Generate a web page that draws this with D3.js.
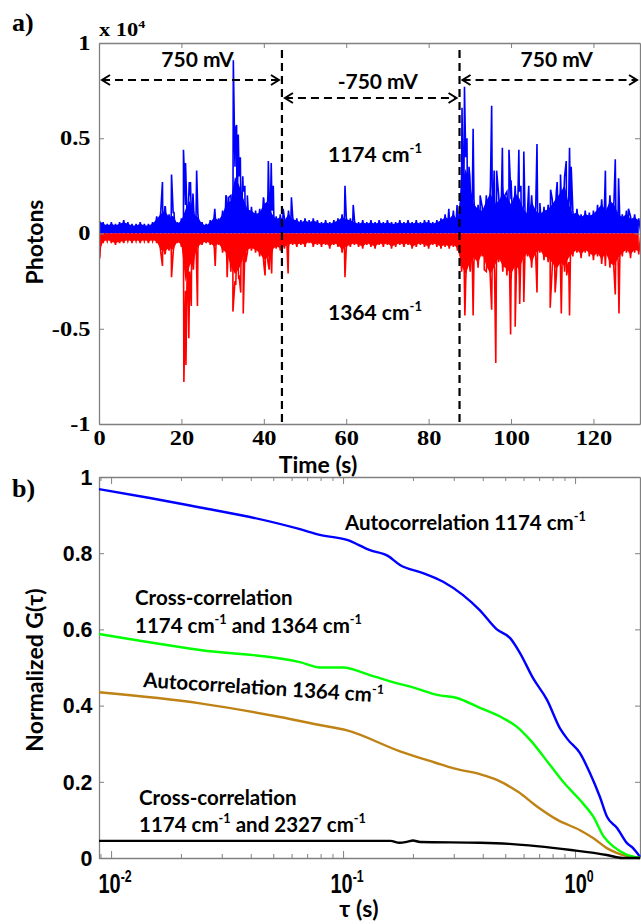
<!DOCTYPE html>
<html>
<head>
<meta charset="utf-8">
<script src="https://cdn.jsdelivr.net/npm/d3@7"></script>
<style>
body { margin: 0; background: #fff; }
svg { display: block; }
.lbl { font-family: Lato, "Open Sans", sans-serif; font-weight: bold; fill: #000; }
.serif { font-family: "Liberation Serif", "Times New Roman", serif; font-weight: bold; fill: #000; }
</style>
</head>
<body>
<svg id="viz" width="641" height="924"></svg>
<script>
// ---- panel a data: photon counts (x 10^4) over time (s) ----
var timeTicks = [0, 20, 40, 60, 80, 100, 120];
var photonTicks = [-1, -0.5, 0, 0.5, 1];

// band top per second (1174 cm-1, blue)
var blueNoise = [
  .08, .06, .05, .06, .05, .06, .07, .06, .05, .05, .06, .05, .05, .06, .09, .12, .14, .10, .11, .06,
  .08, .15, .20, .12, .10, .06, .05, .07, .10, .08, .12, .19, .20, .35, .30, .22, .15, .14, .12, .13,
  .18, .20, .12, .09, .10, .08, .12, .09, .08, .07, .08, .07, .08, .07, .06, .07, .06, .07, .08, .10,
  .09, .08, .07, .06, .07, .06, .07, .06, .07, .06, .07, .06, .06, .07, .06, .07, .06, .07, .06, .07,
  .07, .06, .07, .08, .10, .09, .12, .08, .30, .40, .30, .18, .15, .14, .20, .25, .18, .20, .25, .22,
  .18, .25, .22, .15, .12, .20, .14, .12, .14, .15, .18, .22, .25, .30, .18, .12, .13, .10, .12, .11,
  .12, .15, .18, .14, .20, .18, .12, .10, .12, .09, .10, .08
];
// band bottom per second (1364 cm-1, red, plotted negative)
var redNoise = [
  -.12, -.05, -.04, -.05, -.06, -.05, -.05, -.04, -.05, -.04, -.05, -.04, -.05, -.04, -.05, -.10, -.11, -.09, -.10, -.05,
  -.07, -.30, -.20, -.15, -.08, -.06, -.05, -.06, -.08, -.06, -.10, -.12, -.20, -.25, -.22, -.15, -.10, -.09, -.10, -.12,
  -.16, -.15, -.10, -.08, -.09, -.08, -.07, -.06, -.07, -.06, -.07, -.05, -.07, -.06, -.07, -.06, -.08, -.06, -.07, -.10,
  -.08, -.07, -.06, -.07, -.08, -.06, -.07, -.08, -.06, -.07, -.06, -.08, -.07, -.06, -.07, -.06, -.08, -.07, -.06, -.07,
  -.08, -.06, -.07, -.08, -.07, -.08, -.07, -.09, -.20, -.25, -.18, -.15, -.18, -.12, -.20, -.25, -.20, -.15, -.20, -.22,
  -.25, -.20, -.22, -.15, -.12, -.18, -.12, -.10, -.14, -.15, -.18, -.22, -.18, -.20, -.15, -.12, -.10, -.13, -.10, -.12,
  -.14, -.12, -.16, -.12, -.18, -.20, -.15, -.12, -.10, -.13, -.10, -.11
];
// bursts [time, value]
var blueSpikes = [
  [15.4, .27], [16.1, .14], [17.6, .31], [18.2, .11], [20.5, .44], [21.0, .37], [21.9, .27], [22.2, .27],
  [22.8, .21], [23.7, .33], [28.1, .13], [30.8, .20], [31.5, .19], [32.6, .91], [33.1, .55], [33.4, .57],
  [33.8, .52], [34.3, .40], [34.9, .30], [35.4, .25], [36.0, .20], [39.9, .19], [41.1, .38], [41.8, .37],
  [42.3, .25], [44.7, .13], [46.7, .19], [59.7, .25], [61.7, .15], [84.9, .13], [86.9, .15], [88.1, .66],
  [88.7, .77], [89.3, .50], [89.8, .35], [90.8, .55], [92.5, .20], [95.3, .67], [95.9, .33], [96.5, .33],
  [97.9, .45], [98.5, .20], [99.5, .44], [100.0, .28], [101.9, .44], [102.4, .25], [103.1, .43], [104.3, .25],
  [106.3, .47], [107.0, .16], [109.6, .23], [111.2, .27], [112.0, .31], [113.4, .38], [114.2, .45], [114.6, .35],
  [122.9, .33], [125.3, .39], [126.1, .29], [128.5, .13]
];
var redSpikes = [
  [0.2, -.13], [15.4, -.17], [16.1, -.10], [17.6, -.23], [20.6, -.78], [21.1, -.69], [21.8, -.55], [22.4, -.38],
  [22.9, -.19], [23.9, -.38], [28.2, -.17], [31.1, -.23], [32.5, -.41], [33.2, -.27], [33.9, -.24], [34.4, -.31],
  [35.0, -.42], [35.6, -.15], [40.3, -.22], [41.3, -.19], [41.9, -.21], [45.9, -.21], [59.7, -.23], [88.8, -.43],
  [90.1, -.20], [90.8, -.43], [93.5, -.19], [95.3, -.40], [96.3, -.68], [99.9, -.53], [101.0, -.49], [102.1, -.37],
  [103.1, -.36], [106.3, -.31], [109.5, -.39], [110.7, -.31], [112.2, -.42], [113.5, -.22], [114.2, -.43], [122.9, -.17],
  [125.3, -.32], [126.2, -.42]
];
var switchTimes = [44.4, 87.5];
var segStart = [0, 44.4, 87.5];
var segEnd = [44.4, 87.5, 131.3];
var segLabels = ["750 mV", "-750 mV", "750 mV"];

// ---- panel b data: normalized G(tau) [tau (s), G] ----
var gTicks = [0, 0.2, 0.4, 0.6, 0.8, 1];
var tauMajor = [0.01, 0.1, 1];
var tauExp = ["-2", "-1", "0"];
var auto1174 = [[0.00887, .968], [0.0147, .945], [0.0242, .92], [0.0397, .895], [0.0652, .863], [0.0794, .848],
  [0.104, .835], [0.1306, .808], [0.156, .793], [0.176, .769], [0.221, .748], [0.27, .725], [0.329, .69],
  [0.389, .65], [0.46, .60], [0.525, .577], [0.579, .538], [0.659, .472], [0.757, .415], [0.861, .34],
  [0.933, .31], [1.05, .275], [1.159, .223], [1.28, .16], [1.373, .108], [1.517, .079], [1.675, .039],
  [1.778, .026], [1.905, .003]];
var cross1364 = [[0.00887, .588], [0.0242, .546], [0.0652, .514], [0.0794, .50], [0.1, .50], [0.1306, .48],
  [0.17, .459], [0.205, .446], [0.255, .428], [0.31, .42], [0.389, .394], [0.49, .367], [0.57, .341],
  [0.64, .31], [0.789, .24], [0.90, .196], [1.05, .152], [1.2, .108], [1.33, .056], [1.47, .029],
  [1.675, .008], [1.905, 0]];
var auto1364 = [[0.00887, .435], [0.0242, .406], [0.0535, .37], [0.0794, .349], [0.104, .335], [0.176, .28],
  [0.25, .25], [0.30, .235], [0.389, .22], [0.46, .205], [0.57, .173], [0.69, .134], [0.84, .10],
  [1.05, .073], [1.2, .052], [1.37, .026], [1.52, .013], [1.905, 0]];
var cross2327 = [[0.00887, .045], [0.16, .045], [0.175, .040], [0.19, .043], [0.20, .046], [0.215, .042],
  [0.39, .040], [0.52, .037], [0.96, .021], [1.37, .008], [1.6, 0], [1.905, 0]];

var svg = d3.select("#viz");
var axisGray = "#808080";

function richText(g, x, y, parts, size, cls) {
    var t = g.append("text").attr("class", cls).attr("x", x).attr("y", y).attr("font-size", size);
    var up = false;
    parts.forEach(function(p) {
        var s = t.append("tspan").text(p[0]);
        if (p[1]) {
            s.attr("font-size", size * 0.62);
            if (!up) { s.attr("dy", -size * 0.42); up = true; }
        } else if (up) {
            s.attr("dy", size * 0.42); up = false;
        }
    });
    return t;
}

function styleAxis(g) {
    g.select(".domain").attr("stroke", axisGray).attr("stroke-width", 1.3);
    g.selectAll(".tick line").attr("stroke", axisGray).attr("stroke-width", 1);
}

// ================= panel a =================
var xa = d3.scaleLinear().domain([0, 131.3]).range([99, 640]);
var ya = d3.scaleLinear().domain([-1, 1]).range([424, 43]);

svg.append("clipPath").attr("id", "clipA").append("rect")
    .attr("x", 99).attr("y", 43).attr("width", 541).attr("height", 381);

function buildTrace(noise, spikes) {
    var pts = [];
    noise.forEach(function(v, i) { pts.push([i, v]); pts.push([i + 0.5, 0]); });
    spikes.forEach(function(s) { pts.push(s); });
    pts.sort(function(a, b) { return a[0] - b[0]; });
    return pts;
}

var lineA = d3.line().x(function(d) { return xa(d[0]); }).y(function(d) { return ya(d[1]); });
var bandA = d3.area().x(function(d, i) { return xa(i); }).y0(ya(0)).y1(function(d) { return ya(d * 0.85); });
var traces = svg.append("g").attr("clip-path", "url(#clipA)");
[[blueNoise, blueSpikes, "#0000ff"], [redNoise, redSpikes, "#ff0000"]].forEach(function(s) {
    traces.append("path").datum(s[0]).attr("d", bandA).attr("fill", s[2]);
    traces.append("path").datum(buildTrace(s[0], s[1]))
        .attr("d", lineA).attr("fill", "none").attr("stroke", s[2]).attr("stroke-width", 1.6);
});

// axes (box)
var axB = svg.append("g").attr("transform", "translate(0,424)")
    .call(d3.axisBottom(xa).tickValues(timeTicks).tickSize(-5).tickSizeOuter(0).tickPadding(7));
var axT = svg.append("g").attr("transform", "translate(0,43)")
    .call(d3.axisTop(xa).tickValues(timeTicks).tickSize(-5).tickSizeOuter(0).tickFormat(""));
var axL = svg.append("g").attr("transform", "translate(99,0)")
    .call(d3.axisLeft(ya).tickValues(photonTicks).tickSize(-5).tickSizeOuter(0).tickPadding(7)
        .tickFormat(function(d) { return String(d); }));
var axR = svg.append("g").attr("transform", "translate(640,0)")
    .call(d3.axisRight(ya).tickValues(photonTicks).tickSize(-5).tickSizeOuter(0).tickFormat(""));
[axB, axT, axL, axR].forEach(styleAxis);
[axB, axL].forEach(function(g) {
    g.selectAll("text").attr("class", "serif").attr("font-size", 20).attr("fill", "#000")
        .attr("transform", "scale(1.22,1)");
});

// voltage switches
svg.selectAll("line.switch")
    .data(switchTimes)
    .enter()
    .append("line")
    .classed("switch", true)
    .attr("x1", function(d) { return xa(d); })
    .attr("x2", function(d) { return xa(d); })
    .attr("y1", 50).attr("y2", 424)
    .attr("stroke", "#000").attr("stroke-width", 2.2).attr("stroke-dasharray", "8,5");

var defs = svg.append("defs");
defs.append("marker").attr("id", "chev").attr("viewBox", "-10 -6 12 12")
    .attr("refX", 0).attr("refY", 0).attr("markerWidth", 12).attr("markerHeight", 12)
    .attr("markerUnits", "userSpaceOnUse").attr("orient", "auto-start-reverse")
    .append("path").attr("d", "M-8,-5L0,0L-8,5").attr("fill", "none")
    .attr("stroke", "#000").attr("stroke-width", 2);

var arrowY = [80, 98, 80];
var labelY = [67, 89, 67];
segLabels.forEach(function(lab, i) {
    svg.append("line")
        .attr("x1", xa(segStart[i]) + 3).attr("x2", xa(segEnd[i]) - 3)
        .attr("y1", arrowY[i]).attr("y2", arrowY[i])
        .attr("stroke", "#000").attr("stroke-width", 2.2).attr("stroke-dasharray", "8,5")
        .attr("marker-start", "url(#chev)").attr("marker-end", "url(#chev)");
    svg.append("text").attr("class", "lbl").attr("font-size", 21)
        .attr("x", (xa(segStart[i]) + xa(segEnd[i])) / 2 + 7).attr("y", labelY[i])
        .attr("text-anchor", "middle").text(lab);
});

richText(svg, 328, 162, [["1174 cm"], ["-1", 1]], 21, "lbl");
richText(svg, 328, 320, [["1364 cm"], ["-1", 1]], 21, "lbl");

svg.append("text").attr("class", "serif").attr("font-size", 26).attr("x", 12).attr("y", 31).text("a)");
richText(svg, 0, 0, [["x 10"], ["4", 1]], 18, "serif")
    .attr("transform", "translate(99,36) scale(1.25,1)");

svg.append("text").attr("class", "lbl").attr("font-size", 23)
    .attr("transform", "translate(43,242) rotate(-90)").attr("text-anchor", "middle").text("Photons");
svg.append("text").attr("class", "lbl").attr("font-size", 23)
    .attr("x", 318).attr("y", 473).attr("text-anchor", "middle").text("Time (s)");

// ================= panel b =================
var xb = d3.scaleLog().domain([0.00887, 1.905]).range([99, 640]);
var yb = d3.scaleLinear().domain([0, 1]).range([858, 477]);
var allTau = xb.ticks();
function isMajor(d) { return tauMajor.some(function(m) { return Math.abs(m - d) < 1e-9; }); }

var bB = svg.append("g").attr("transform", "translate(0,858)")
    .call(d3.axisBottom(xb).tickValues(allTau).tickSizeOuter(0).tickFormat(""));
bB.selectAll(".tick line").attr("y2", function(d) { return isMajor(d) ? -7 : -4; });
var bT = svg.append("g").attr("transform", "translate(0,477)")
    .call(d3.axisTop(xb).tickValues(allTau).tickSizeOuter(0).tickFormat(""));
bT.selectAll(".tick line").attr("y2", function(d) { return isMajor(d) ? 7 : 4; });
var bL = svg.append("g").attr("transform", "translate(99,0)")
    .call(d3.axisLeft(yb).tickValues(gTicks).tickSize(-5).tickSizeOuter(0).tickPadding(7)
        .tickFormat(function(d) { return String(d); }));
var bR = svg.append("g").attr("transform", "translate(640,0)")
    .call(d3.axisRight(yb).tickValues(gTicks).tickSize(-5).tickSizeOuter(0).tickFormat(""));
[bB, bT, bL, bR].forEach(styleAxis);
bL.selectAll("text").attr("font-family", "'Liberation Sans', Arial, sans-serif").attr("font-weight", "bold")
    .attr("font-size", 23).attr("fill", "#000").attr("transform", "scale(0.93,1)");

tauMajor.forEach(function(m, i) {
    richText(svg, 0, 0, [["10"], [tauExp[i], 1]], 27, "")
        .attr("font-family", "'Liberation Sans', Arial, sans-serif").attr("font-weight", "bold")
        .attr("text-anchor", "middle")
        .attr("transform", "translate(" + (xb(m) + 4) + ",893) scale(0.74,1)");
});

var lineB = d3.line().curve(d3.curveMonotoneX)
    .x(function(d) { return xb(d[0]); }).y(function(d) { return yb(d[1]); });
var curves = [[auto1174, "#0000ff"], [auto1364, "#bf8214"], [cross1364, "#00ff00"], [cross2327, "#000000"]];
curves.forEach(function(c) {
    svg.append("path").datum(c[0]).attr("d", lineB).attr("fill", "none")
        .attr("stroke", c[1]).attr("stroke-width", 2.4);
});

richText(svg, 345, 530, [["Autocorrelation 1174 cm"], ["-1", 1]], 20.5, "lbl");
svg.append("text").attr("class", "lbl").attr("font-size", 20.5).attr("x", 135).attr("y", 605).text("Cross-correlation");
richText(svg, 135, 633, [["1174 cm"], ["-1", 1], [" and 1364 cm"], ["-1", 1]], 20.5, "lbl");
richText(svg, 0, 0, [["Autocorrelation 1364 cm"], ["-1", 1]], 20.5, "lbl")
    .attr("transform", "translate(143,687) rotate(3.7)");
svg.append("text").attr("class", "lbl").attr("font-size", 20.5).attr("x", 139).attr("y", 805).text("Cross-correlation");
richText(svg, 139, 832, [["1174 cm"], ["-1", 1], [" and 2327 cm"], ["-1", 1]], 20.5, "lbl");

svg.append("text").attr("class", "serif").attr("font-size", 26).attr("x", 12).attr("y", 497).text("b)");
svg.append("text").attr("class", "lbl").attr("font-size", 23)
    .attr("transform", "translate(43,670) rotate(-90)").attr("text-anchor", "middle").text("Normalized G(\u03c4)");
svg.append("text").attr("class", "lbl").attr("font-size", 23)
    .attr("x", 359).attr("y", 917).attr("text-anchor", "middle").text("\u03c4 (s)");
</script>
</body>
</html>
